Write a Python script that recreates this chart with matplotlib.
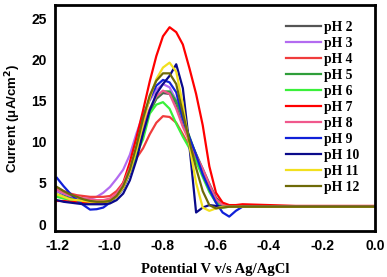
import numpy as np
import matplotlib
matplotlib.use("Agg")
import matplotlib.pyplot as plt

# potential grid (V vs Ag/AgCl)
potential = [-1.2, -1.175, -1.15, -1.125, -1.1, -1.075, -1.05, -1.025, -1.0, -0.975,
             -0.95, -0.925, -0.9, -0.875, -0.85, -0.825, -0.8, -0.775, -0.75, -0.725,
             -0.7, -0.675, -0.65, -0.625, -0.6, -0.575, -0.55, -0.525, -0.5,
             -0.4, -0.3, -0.2, -0.1, 0.0]

# current (uA/cm2) for each pH
ph2 = [4.0, 3.6, 3.3, 3.1, 2.9, 2.8, 2.8, 2.8,
       2.9, 3.4, 4.5, 6.3, 8.7, 11.3, 13.6, 15.2, 15.9, 15.8, 14.6, 12.0,
       10.3, 8.5, 6.7, 4.9, 3.2, 2.4, 2.1, 2.1, 2.1,
       2.1, 2.1, 2.1, 2.1, 2.1]
ph3 = [4.0, 3.7, 3.4, 3.2, 3.1, 3.1, 3.3, 3.8,
       4.5, 5.5, 6.6, 8.4, 11.0, 13.3, 15.0, 16.3, 17.0, 16.6, 15.0, 12.7,
       10.4, 8.2, 6.0, 4.0, 2.7, 2.2, 2.1, 2.1, 2.1,
       2.1, 2.1, 2.1, 2.1, 2.1]
ph4 = [4.4, 4.0, 3.7, 3.5, 3.4, 3.3, 3.3, 3.3,
       3.4, 4.0, 5.0, 6.4, 8.0, 9.2, 10.9, 12.3, 13.1, 13.0, 12.3, 10.9,
       9.4, 7.9, 6.2, 4.4, 3.0, 2.3, 2.1, 2.1, 2.1,
       2.1, 2.1, 2.1, 2.1, 2.1]
ph5 = [3.6, 3.3, 3.1, 2.9, 2.8, 2.7, 2.7, 2.7,
       2.8, 3.3, 4.4, 6.2, 8.6, 11.2, 13.6, 15.3, 16.1, 16.1, 14.9, 12.9,
       10.6, 8.4, 6.2, 4.2, 2.8, 2.2, 2.1, 2.1, 2.1,
       2.1, 2.1, 2.1, 2.1, 2.1]
ph6 = [3.3, 3.1, 2.9, 2.8, 2.8, 2.8, 2.8, 2.8,
       2.9, 3.5, 4.6, 6.4, 8.5, 10.3, 13.4, 14.5, 14.8, 14.0, 12.2, 10.6,
       9.2, 7.6, 5.7, 3.9, 2.6, 2.0, 2.1, 2.1, 2.1,
       2.1, 2.1, 2.1, 2.1, 2.1]
ph7 = [2.8, 2.8, 2.7, 2.7, 2.6, 2.6, 2.6, 2.6,
       2.9, 3.6, 5.0, 7.5, 10.5, 13.8, 17.3, 20.4, 22.8, 23.9, 23.3, 21.8,
       18.9, 15.8, 12.0, 7.0, 3.8, 2.6, 2.3, 2.3, 2.4,
       2.3, 2.2, 2.2, 2.2, 2.2]
ph8 = [4.2, 3.8, 3.5, 3.3, 3.1, 3.0, 2.9, 2.9,
       3.1, 3.7, 4.9, 6.8, 9.2, 11.8, 14.0, 15.5, 16.2, 15.8, 14.0, 11.8,
       10.0, 8.3, 6.7, 4.8, 3.0, 2.3, 2.1, 2.1, 2.1,
       2.1, 2.1, 2.1, 2.1, 2.1]
ph9 = [5.6, 4.6, 3.7, 2.9, 2.3, 1.75, 1.8, 2.0,
       2.6, 3.3, 4.3, 6.2, 9.2, 12.8, 15.2, 16.8, 17.5, 17.2, 16.0, 12.8,
       10.5, 8.4, 6.0, 4.2, 2.6, 1.4, 0.9, 1.6, 2.1,
       2.1, 2.1, 2.1, 2.1, 2.1]
ph10 = [2.9, 2.7, 2.6, 2.5, 2.4, 2.4, 2.4, 2.4,
        2.5, 2.9, 3.7, 5.3, 7.8, 11.0, 13.8, 15.8, 17.0, 18.0, 19.4, 16.5,
        9.4, 1.4, 2.0, 2.3, 2.2, 2.1, 2.1, 2.1, 2.1,
        2.1, 2.1, 2.1, 2.1, 2.1]
ph11 = [3.6, 3.3, 3.0, 2.9, 2.8, 2.7, 2.7, 2.7,
        2.8, 3.3, 4.4, 6.3, 9.0, 12.3, 15.3, 17.6, 19.0, 19.6, 18.5, 14.5,
        9.5, 5.0, 2.0, 1.6, 1.9, 2.1, 2.1, 2.1, 2.1,
        2.1, 2.1, 2.1, 2.1, 2.1]
ph12 = [4.5, 4.0, 3.6, 3.3, 3.0, 2.8, 2.7, 2.7,
        2.8, 3.4, 4.6, 6.6, 9.5, 12.8, 15.6, 17.4, 18.3, 18.3, 17.0, 13.5,
        10.0, 6.8, 4.0, 2.3, 1.9, 2.0, 2.1, 2.1, 2.1,
        2.1, 2.1, 2.1, 2.1, 2.1]

labels = ["pH 2", "pH 3", "pH 4", "pH 5", "pH 6", "pH 7", "pH 8", "pH 9", "pH 10", "pH 11", "pH 12"]
series = [ph2, ph3, ph4, ph5, ph6, ph7, ph8, ph9, ph10, ph11, ph12]
colors = ["#555555", "#b36bf0", "#f03c3c", "#2f9e3a", "#3af03a", "#ff0000",
          "#f0588c", "#1020d8", "#0a0a8a", "#f2e01e", "#6e6a08"]

fig = plt.figure(figsize=(3.87, 2.77), dpi=100)
ax = fig.add_axes([0.142, 0.166, 0.827, 0.816])

for y, c, lab in zip(series, colors, labels):
    ax.plot(potential, y, color=c, lw=1.6, label=lab, solid_joinstyle="round")

ax.set_xlim(-1.2075, 0.0)
ax.set_ylim(-0.85, 26.6)
ax.set_xticks([-1.2, -1.0, -0.8, -0.6, -0.4, -0.2, 0.0])
ax.set_xticklabels(["-1.2", "-1.0", "-0.8", "-0.6", "-0.4", "-0.2", "0.0"])
ax.set_yticks([0, 5, 10, 15, 20, 25])
ax.tick_params(length=0, pad=6)
for t in ax.get_xticklabels() + ax.get_yticklabels():
    t.set_fontfamily("Liberation Sans")
    t.set_fontweight("bold")
    t.set_fontsize(10)
for s in ax.spines.values():
    s.set_linewidth(2)

ax.set_xlabel("Potential V v/s Ag/AgCl", family="Liberation Serif", weight="bold",
              fontsize=10.5, labelpad=7)
ax.set_ylabel("Current (\u03bcA/cm$^\\mathbf{2}$)", family="Liberation Sans", weight="bold",
              fontsize=9.5, labelpad=6)

leg = ax.legend(loc="upper right", bbox_to_anchor=(0.99, 0.985), frameon=False,
                prop={"family": "Liberation Serif", "weight": "bold", "size": 9.8},
                handlelength=2.6, handletextpad=0.2, labelspacing=0.22)

fig.savefig("out.png", dpi=100)
